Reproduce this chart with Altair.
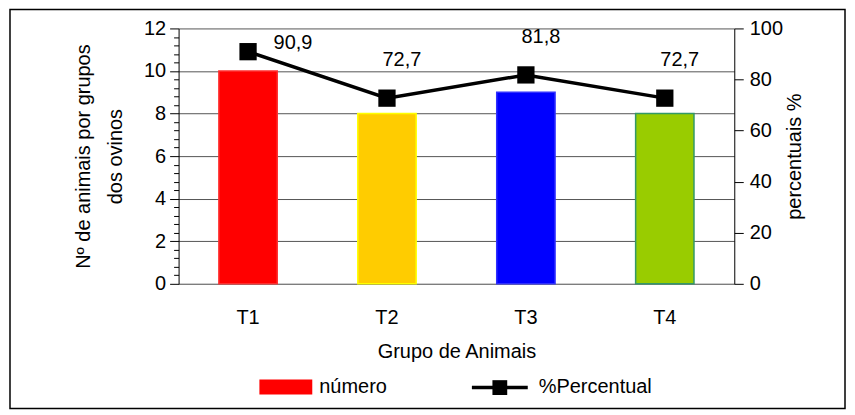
import altair as alt
import pandas as pd

grupos = ["T1", "T2", "T3", "T4"]
numero = [10, 8, 9, 8]
percentual = [90.9, 72.7, 81.8, 72.7]
cores = ["#FF0000", "#FFCC00", "#0000FF", "#99CC00"]
bordas = ["#FF3030", "#FFFF00", "#3030FF", "#339966"]

df = pd.DataFrame({
    "grupo": grupos,
    "numero": numero,
    "pct": percentual,
    "cor": cores,
    "borda": bordas,
    "rotulo": [f"{v:.1f}".replace(".", ",") for v in percentual],
})

FONT = "Liberation Sans"
FS = 20
W, H = 557, 256

left_vals = [round(i * 0.4, 1) for i in range(31)]
major = "datum.value % 2 == 0"

x_enc = alt.X("grupo:N", sort=grupos,
              scale=alt.Scale(paddingInner=0.58, paddingOuter=0.29),
              axis=alt.Axis(title="Grupo de Animais", labelAngle=0, ticks=False,
                            labelPadding=24, titlePadding=14, domainColor="#808080",
                            labelFont=FONT, labelFontSize=FS, labelColor="black",
                            titleFont=FONT, titleFontSize=FS, titleFontWeight="normal",
                            titleColor="black", grid=False))

bars = alt.Chart(df).mark_bar(strokeWidth=1.5).encode(
    x=x_enc,
    y=alt.Y("numero:Q", scale=alt.Scale(domain=[0, 12], nice=False),
            axis=alt.Axis(
                values=left_vals,
                labelExpr=f"{major} ? format(datum.value, 'd') : ''",
                tickSize={"condition": {"test": major, "value": 9}, "value": 5},
                gridOpacity={"condition": {"test": major, "value": 1}, "value": 0},
                gridColor="#555555", gridWidth=1,
                title=["Nº de animais por grupos", "dos ovinos"],
                titleLineHeight=32, titlePadding=18,
                labelPadding=4, labelFont=FONT, labelFontSize=FS, labelColor="black",
                titleFont=FONT, titleFontSize=FS, titleFontWeight="normal", titleColor="black",
                domainColor="black", tickColor="black")),
    color=alt.Color("cor:N", scale=None),
    stroke=alt.Stroke("borda:N", scale=None),
)

y_right = alt.Y("pct:Q", scale=alt.Scale(domain=[0, 100], nice=False),
                axis=alt.Axis(orient="right", values=[0, 20, 40, 60, 80, 100],
                              title="percentuais %", titleAngle=270, grid=False,
                              tickSize=9, labelPadding=6, titlePadding=22,
                              labelFont=FONT, labelFontSize=FS, labelColor="black",
                              titleFont=FONT, titleFontSize=FS, titleFontWeight="normal",
                              titleColor="black", domainColor="black", tickColor="black"))

line = alt.Chart(df).mark_line(color="black", strokeWidth=3.5).encode(x=x_enc, y=y_right)
pts = alt.Chart(df).mark_square(color="black", size=300, opacity=1).encode(x=x_enc, y=y_right)
lab1 = alt.Chart(df).transform_filter("datum.grupo == 'T1'").mark_text(
    font=FONT, fontSize=FS, color="black", dx=45, dy=-9).encode(x=x_enc, y=y_right, text="rotulo:N")
lab2 = alt.Chart(df).transform_filter("datum.grupo != 'T1'").mark_text(
    font=FONT, fontSize=FS, color="black", dx=15, dy=-38).encode(x=x_enc, y=y_right, text="rotulo:N")

one = pd.DataFrame({"k": [0]})
sw = alt.Chart(one).mark_rect(color="#FF0000").encode(
    x=alt.value(81), x2=alt.value(134), y=alt.value(352), y2=alt.value(367))
t_num = alt.Chart(one).mark_text(font=FONT, fontSize=FS, color="black", align="left",
                                 baseline="middle").encode(
    x=alt.value(141), y=alt.value(359), text=alt.value("número"))
lg_line = alt.Chart(one).mark_rule(color="black", strokeWidth=3.5).encode(
    x=alt.value(294), x2=alt.value(350), y=alt.value(360))
lg_sq = alt.Chart(one).mark_square(color="black", size=220, opacity=1).encode(
    x=alt.value(322), y=alt.value(360))
t_pct = alt.Chart(one).mark_text(font=FONT, fontSize=FS, color="black", align="left",
                                 baseline="middle").encode(
    x=alt.value(361), y=alt.value(359), text=alt.value("%Percentual"))
border = alt.Chart(one).mark_rect(fillOpacity=0, stroke="black", strokeWidth=1.5).encode(
    x=alt.value(-169), x2=alt.value(668), y=alt.value(-19), y2=alt.value(381))

left_layer = bars
right_layer = alt.layer(line, pts, lab1, lab2)

chart = alt.layer(left_layer, right_layer, sw, t_num, lg_line, lg_sq, t_pct, border).resolve_scale(
    y="independent"
).properties(
    width=W, height=H,
    autosize=alt.AutoSizeParams(type="none"),
    padding={"left": 171, "top": 20, "right": 113, "bottom": 126},
).configure_view(stroke=None)

chart.save("out.html", embed_options={"renderer": "svg", "actions": False})
